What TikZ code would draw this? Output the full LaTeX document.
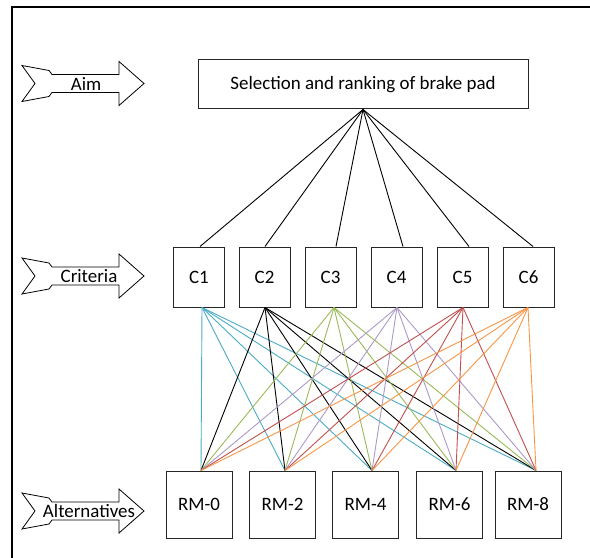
\documentclass[tikz,border=0pt]{standalone}
\usepackage{fontspec}
\setmainfont{Carlito}
\definecolor{cA}{HTML}{4BACC6}
\definecolor{cB}{HTML}{000000}
\definecolor{cC}{HTML}{9BBB59}
\definecolor{cD}{RGB}{172,153,199}
\definecolor{cE}{HTML}{C0504D}
\definecolor{cF}{HTML}{F79646}
\definecolor{boxline}{HTML}{262626}
\tikzset{
  box/.style={draw=boxline, line width=1bp, inner sep=0pt, font=\fontsize{19}{21}\selectfont},
  lbl/.style={inner sep=0pt, font=\fontsize{19}{21}\selectfont},
  link/.style={line width=0.9bp},
  frameline/.style={line width=1.3bp, black},
  notcharrow/.pic={
    \draw[line width=0.8bp, line join=miter] (22,-18) -- (49,-13) -- (52,-9) -- (119,-9) -- (119,-22) -- (144,0)
      -- (119,22) -- (119,9) -- (52,9) -- (49,13) -- (22,18) -- (35,0) -- cycle;
  }
}
\begin{document}
\begin{tikzpicture}[x=1bp,y=-1bp]
\useasboundingbox (0,0) rectangle (590,558);
% frame
\draw[frameline] (12,558) -- (12,7) -- (590,7);
% side arrows
\pic at (0,83.5) {notcharrow};
\node[lbl] (aim) at (86,84) {Aim};
\pic at (0,276) {notcharrow};
\node[lbl] (crit) at (89,276) {Criteria};
\pic at (0,511) {notcharrow};
\node[lbl] (alt) at (89,511) {Alternatives};
% goal
\node[box, minimum width=330bp, minimum height=49bp] (goal) at (363,84.5) {Selection and ranking of brake pad};
% criteria
\foreach \i/\x in {1/199,2/264.5,3/330.5,4/396.5,5/462.5,6/528.5}
  \node[box, minimum width=51bp, minimum height=60bp] (c\i) at (\x,277) {C\i};
% alternatives
\foreach \j/\x/\t in {0/199/RM-0,2/282.5/RM-2,4/365.5/RM-4,6/449.5/RM-6,8/528/RM-8}
  \node[box, minimum width=66bp, minimum height=67bp] (r\j) at (\x,504.5) {\t};
% anchor points
\coordinate (g) at (goal.south);
\foreach \i/\dx in {1/1,2/0.5,3/5.5,4/6.5,5/6.5,6/4.5}
  \coordinate (ct\i) at ([xshift=\dx bp]c\i.north);
\foreach \i/\dx in {1/3,2/0.5,3/3.5,4/0.5,5/0.5,6/-0.5}
  \coordinate (cb\i) at ([xshift=\dx bp]c\i.south);
\foreach \j/\dx in {0/2,2/2.5,4/6.5,6/6.5,8/8}
  \coordinate (rt\j) at ([xshift=\dx bp]r\j.north);
% goal to criteria
\foreach \i in {1,...,6}
  \draw[link, black] (g) -- (ct\i);
% criteria to alternatives
\foreach \i/\c in {1/cA,2/cB,3/cC,4/cD,5/cE,6/cF}
  \foreach \j in {0,2,4,6,8}
    \draw[link, \c] (cb\i) -- (rt\j);
\end{tikzpicture}
\end{document}
